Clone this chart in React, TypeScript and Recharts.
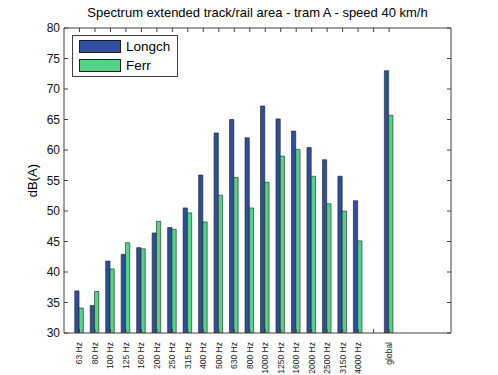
import { Bar, BarChart, Legend, XAxis, YAxis } from "recharts";

const CATEGORIES = [
  "63 Hz", "80 Hz", "100 Hz", "125 Hz", "160 Hz", "200 Hz", "250 Hz", "315 Hz", "400 Hz", "500 Hz",
  "630 Hz", "800 Hz", "1000 Hz", "1250 Hz", "1600 Hz", "2000 Hz", "2500 Hz", "3150 Hz", "4000 Hz", "", "global",
];
const LONGCH = [36.9, 34.5, 41.8, 42.9, 44.0, 46.4, 47.3, 50.5, 55.9, 62.8, 65.0, 62.0, 67.2, 65.1, 63.1, 60.4, 58.4, 55.7, 51.7, null, 73.0];
const FERR = [34.1, 36.8, 40.5, 44.8, 43.8, 48.3, 47.0, 49.7, 48.2, 52.6, 55.5, 50.5, 54.7, 59.0, 60.1, 55.7, 51.2, 50.0, 45.1, null, 65.7];
const SERIES = ["Longch", "Ferr"];
const Y_TICKS = [30, 35, 40, 45, 50, 55, 60, 65, 70, 75, 80];
const X_TICKS = CATEGORIES.map((_, i) => i + 1);

const FONT = '"Liberation Sans", Arial, sans-serif';
const AXIS = "#404040";
const BLUE = "#2e4f9d";
const GREEN = "#53d485";
const EDGE = "#1e1e1e";
const TICK_LEN = 4;

const rows = CATEGORIES.map((c, i) => ({ pos: i + 1, name: c, Longch: LONGCH[i], Ferr: FERR[i] }));

function BottomTick({ x, y, payload }: any) {
  const label = CATEGORIES[payload.value - 1] ?? "";
  const axisY = y - 9;
  return (
    <g>
      <line x1={x} x2={x} y1={axisY} y2={axisY - TICK_LEN} stroke={AXIS} />
      <text x={x} y={y} transform={`rotate(-90, ${x}, ${y})`} textAnchor="end" dy="0.35em" fontSize={8.5} fill="#222" fontFamily={FONT}>
        {label}
      </text>
    </g>
  );
}

function TopTick({ x, y }: any) {
  return <line x1={x} x2={x} y1={y} y2={y + TICK_LEN} stroke={AXIS} />;
}

function LeftTick({ x, y, payload }: any) {
  return (
    <g>
      <line x1={x + 4} x2={x + 4 + TICK_LEN} y1={y} y2={y} stroke={AXIS} />
      <text x={x} y={y} textAnchor="end" dy="0.35em" fontSize={12} fill="#111" fontFamily={FONT}>
        {payload.value}
      </text>
    </g>
  );
}

function RightTick({ x, y }: any) {
  return <line x1={x} x2={x - TICK_LEN} y1={y} y2={y} stroke={AXIS} />;
}

function LegendBox({ payload }: any) {
  const items = [...(payload ?? [])].sort((a: any, b: any) => SERIES.indexOf(a.value) - SERIES.indexOf(b.value));
  return (
    <div style={{ width: 104, height: 40, border: `1px solid ${AXIS}`, background: "#fff", fontFamily: FONT }}>
      {items.map((p: any, i: number) => (
        <div key={p.value} style={{ display: "flex", alignItems: "center", position: "absolute", left: 7, top: 4 + i * 19 }}>
          <div style={{ width: 42, height: 13, background: p.color, border: `1px solid ${EDGE}`, boxSizing: "border-box" }} />
          <span style={{ marginLeft: 5, fontSize: 13.5, color: "#000" }}>{p.value}</span>
        </div>
      ))}
    </div>
  );
}

export default function App() {
  return (
    <div style={{ position: "absolute", left: 0, top: 0, width: 498, height: 375, background: "#fff", fontFamily: FONT }}>
      <div style={{ position: "absolute", left: 64, width: 387, top: 5, textAlign: "center", fontSize: 13, color: "#000" }}>
        Spectrum extended track/rail area - tram A - speed 40 km/h
      </div>
      <BarChart width={498} height={375} data={rows} margin={{ top: 27, right: 46, bottom: 0, left: 0 }} barGap={0}>
        <XAxis
          dataKey="pos"
          type="number"
          domain={[0, 25]}
          ticks={X_TICKS}
          interval={0}
          height={42}
          tickSize={0}
          tickMargin={9}
          tickLine={false}
          axisLine={{ stroke: AXIS }}
          tick={<BottomTick />}
          allowDataOverflow
        />
        <XAxis
          xAxisId="top"
          orientation="top"
          dataKey="pos"
          type="number"
          domain={[0, 25]}
          ticks={X_TICKS}
          interval={0}
          height={1}
          tickSize={0}
          tickMargin={0}
          tickLine={false}
          axisLine={{ stroke: AXIS }}
          tick={<TopTick />}
          allowDataOverflow
        />
        <YAxis
          type="number"
          domain={[30, 80]}
          ticks={Y_TICKS}
          interval={0}
          width={64}
          tickSize={0}
          tickMargin={4}
          tickLine={false}
          axisLine={{ stroke: AXIS }}
          tick={<LeftTick />}
          allowDataOverflow
          label={{ value: "dB(A)", angle: -90, position: "center", fontSize: 13, fill: "#000", fontFamily: FONT }}
        />
        <YAxis
          yAxisId="right"
          orientation="right"
          type="number"
          domain={[30, 80]}
          ticks={Y_TICKS}
          interval={0}
          width={1}
          tickSize={0}
          tickMargin={0}
          tickLine={false}
          axisLine={{ stroke: AXIS }}
          tick={<RightTick />}
          allowDataOverflow
        />
        <Legend
          layout="horizontal"
          verticalAlign="middle"
          align="center"
          wrapperStyle={{ left: 72, top: 35, width: 106, height: 42 }}
          content={<LegendBox />}
        />
        <Bar dataKey="Longch" fill={BLUE} stroke={EDGE} strokeWidth={0.6} barSize={4.3} isAnimationActive={false} />
        <Bar dataKey="Ferr" fill={GREEN} stroke={EDGE} strokeWidth={0.6} barSize={4.3} isAnimationActive={false} />
      </BarChart>
    </div>
  );
}
